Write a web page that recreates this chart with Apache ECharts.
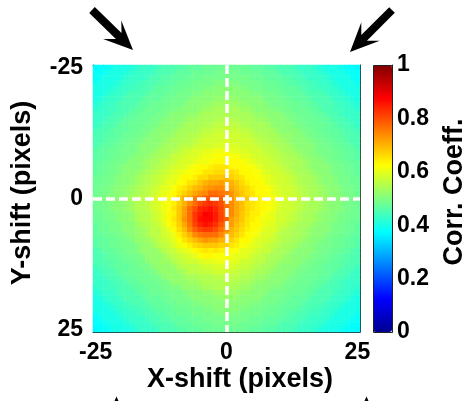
<!DOCTYPE html>
<html>
<head>
<meta charset="utf-8">
<script src="https://cdn.jsdelivr.net/npm/echarts@6/dist/echarts.min.js"></script>
<style>
html,body{margin:0;padding:0;background:#fff;}
#chart{width:470px;height:401px;}
</style>
</head>
<body>
<div id="chart"></div>
<script>
// Pixel shifts (categories for both axes)
const shifts = [-25,-24,-23,-22,-21,-20,-19,-18,-17,-16,-15,-14,-13,-12,-11,-10,-9,-8,-7,-6,-5,-4,-3,-2,-1,0,1,2,3,4,5,6,7,8,9,10,11,12,13,14,15,16,17,18,19,20,21,22,23,24,25];
const xTickLabels = ['-25', '0', '25'];
const yTickLabels = ['-25', '0', '25'];
const cbTickLabels = ['0', '0.2', '0.4', '0.6', '0.8', '1'];
const xTitle = 'X-shift (pixels)';
const yTitle = 'Y-shift (pixels)';
const cbTitle = 'Corr. Coeff.';

// Correlation coefficient x100, one row per Y-shift (-25 top ... 25 bottom), X-shift -25 ... 25
const corrRows = [
"37 38 38 39 40 40 40 41 42 43 43 43 44 45 45 45 46 46 47 47 47 48 48 48 48 49 48 48 48 48 47 47 47 46 46 45 45 45 44 43 43 43 42 41 40 40 40 39 38 38 37",
"38 38 39 40 40 40 41 42 43 43 43 44 45 45 45 46 47 47 47 48 48 48 48 49 49 49 49 49 48 48 48 48 47 47 47 46 45 45 45 44 43 43 43 42 41 40 40 40 39 38 38",
"38 39 40 40 40 41 42 43 43 43 44 45 45 46 46 47 47 47 48 48 48 49 49 49 49 50 49 49 49 49 48 48 48 47 47 47 46 46 45 45 44 43 43 43 42 41 40 40 40 39 38",
"39 40 40 40 41 42 43 43 44 44 45 45 46 46 47 47 48 48 48 49 49 49 49 50 50 51 50 50 49 49 49 49 48 48 48 47 47 46 46 45 45 44 44 43 43 42 41 40 40 40 39",
"40 40 40 41 42 43 43 44 44 45 45 46 47 47 47 48 48 48 49 49 49 50 50 51 51 51 51 51 50 50 49 49 49 48 48 48 47 47 47 46 45 45 44 44 43 43 42 41 40 40 40",
"40 40 41 42 43 43 44 45 45 45 46 47 47 47 48 48 49 49 49 50 50 51 51 51 51 52 51 51 51 51 50 50 49 49 49 48 48 47 47 47 46 45 45 45 44 43 43 42 41 40 40",
"40 41 42 43 43 44 45 45 45 46 47 47 47 48 48 49 49 49 50 51 51 51 51 52 52 53 52 52 51 51 51 51 50 49 49 49 48 48 47 47 47 46 45 45 45 44 43 43 42 41 40",
"41 42 43 43 44 45 45 45 46 47 47 48 48 48 49 49 49 50 51 51 51 52 52 53 53 54 53 53 52 52 51 51 51 50 49 49 49 48 48 48 47 47 46 45 45 45 44 43 43 42 41",
"42 43 43 44 44 45 45 46 47 47 48 48 48 49 49 50 50 51 51 51 52 53 53 54 54 54 54 54 53 53 52 51 51 51 50 50 49 49 48 48 48 47 47 46 45 45 44 44 43 43 42",
"43 43 43 44 45 45 46 47 47 48 48 48 49 49 50 51 51 51 52 52 53 54 54 54 54 55 54 54 54 54 53 52 52 51 51 51 50 49 49 48 48 48 47 47 46 45 45 44 43 43 43",
"43 43 44 45 45 46 47 47 48 48 48 49 49 50 51 51 51 52 53 53 54 54 54 55 55 56 55 55 54 54 54 53 53 52 51 51 51 50 49 49 48 48 48 47 47 46 45 45 44 43 43",
"43 44 45 45 46 47 47 48 48 48 49 49 50 51 51 51 52 53 54 54 54 55 55 56 56 57 56 56 55 55 54 54 54 53 52 51 51 51 50 49 49 48 48 48 47 47 46 45 45 44 43",
"44 45 45 46 47 47 47 48 48 49 49 50 51 51 51 52 53 54 54 54 55 56 56 57 57 58 57 57 56 56 55 54 54 54 53 52 51 51 51 50 49 49 48 48 47 47 47 46 45 45 44",
"45 45 46 46 47 47 48 48 49 49 50 51 51 52 52 53 54 54 55 55 56 57 57 58 58 58 58 58 57 57 56 55 55 54 54 53 52 52 51 51 50 49 49 48 48 47 47 46 46 45 45",
"45 45 46 47 47 48 48 49 49 50 51 51 51 52 53 54 54 55 55 56 57 58 58 58 58 59 58 58 58 58 57 56 55 55 54 54 53 52 51 51 51 50 49 49 48 48 47 47 46 45 45",
"45 46 47 47 48 48 49 49 50 51 51 51 52 53 54 54 55 56 56 57 58 58 58 59 59 60 59 59 58 58 58 57 56 56 55 54 54 53 52 51 51 51 50 49 49 48 48 47 47 46 45",
"46 47 47 48 48 49 49 49 50 51 51 52 53 54 54 55 56 57 58 59 59 60 60 61 61 62 60 60 59 59 58 58 57 56 56 55 54 54 53 52 51 51 50 49 49 49 48 48 47 47 46",
"46 47 47 48 48 49 49 50 51 51 52 53 54 54 55 57 57 58 59 59 60 61 61 62 62 63 62 62 60 60 59 58 58 57 56 56 55 54 54 53 52 51 51 50 49 49 48 48 47 47 46",
"47 47 48 48 49 49 50 51 51 52 53 54 54 56 56 57 58 59 59 60 61 61 62 63 63 63 63 63 62 61 60 59 58 58 57 56 55 55 54 54 53 52 51 51 50 49 49 48 48 47 47",
"47 48 48 49 49 50 51 51 51 52 53 54 55 56 57 58 59 59 61 62 63 63 64 65 65 65 63 63 63 62 62 60 59 58 58 57 56 55 54 54 53 52 51 51 51 50 49 49 48 48 47",
"47 48 48 49 49 50 51 51 52 53 54 55 56 57 58 59 60 61 62 63 63 65 65 66 66 66 66 65 63 63 62 62 60 59 58 58 57 56 55 54 54 53 52 51 51 50 49 49 48 48 47",
"48 48 49 49 50 51 51 52 53 54 55 56 57 58 59 60 61 63 63 64 66 66 68 68 68 69 67 66 65 63 63 62 61 60 59 58 58 57 56 55 54 54 53 52 51 51 50 49 49 48 48",
"48 48 49 49 50 51 51 52 53 54 55 56 57 58 60 60 62 63 65 66 68 70 71 71 72 70 70 68 66 64 63 63 62 60 59 58 58 57 56 55 54 54 53 52 51 51 50 49 49 48 48",
"48 49 49 50 51 51 52 53 54 55 56 57 58 60 60 62 64 65 67 69 70 72 73 74 74 72 71 69 67 66 64 63 63 62 60 59 58 58 57 56 55 54 54 53 52 51 51 50 49 49 48",
"48 49 49 50 51 51 52 53 54 55 56 57 59 60 61 63 65 67 69 71 73 74 77 77 76 75 73 70 68 66 65 63 63 62 60 59 58 58 57 56 55 54 54 53 52 51 51 50 49 49 48",
"49 49 50 51 51 52 53 54 55 56 57 58 60 61 62 64 67 70 71 75 76 79 79 79 78 76 73 70 68 68 65 64 63 63 62 60 59 58 58 57 56 55 54 54 53 52 51 51 50 49 49",
"48 49 49 50 51 51 52 53 55 55 56 58 59 61 62 64 67 70 74 77 80 82 83 82 80 76 74 71 69 66 65 64 63 62 61 59 58 58 57 56 55 54 54 53 52 51 51 50 49 49 48",
"48 49 49 50 51 51 52 53 55 55 56 58 59 61 62 65 68 72 77 80 84 85 86 84 81 77 74 71 69 66 65 64 63 62 61 59 58 58 57 56 55 54 54 53 52 51 51 50 49 49 48",
"48 48 49 49 50 51 51 52 54 55 55 57 58 60 63 64 68 72 77 82 85 88 87 85 81 77 74 71 68 66 64 64 62 61 60 58 58 57 56 55 54 54 53 52 51 51 50 49 49 48 48",
"48 48 49 49 50 51 51 52 54 55 55 57 58 60 63 65 68 73 77 82 86 87 87 85 81 78 72 70 68 65 64 63 61 61 60 58 58 57 56 55 54 54 53 52 51 51 50 49 49 48 48",
"47 48 48 49 49 50 51 51 53 54 55 56 57 59 62 64 67 71 76 81 84 86 85 83 79 75 72 69 67 65 63 63 61 60 59 58 57 56 55 54 54 53 52 51 51 50 49 49 48 48 47",
"47 48 48 49 49 50 51 51 52 53 54 56 56 58 60 63 66 69 74 78 81 82 82 80 77 74 70 68 66 64 63 62 60 59 59 57 56 55 54 54 53 52 51 51 51 50 49 49 48 48 47",
"47 47 48 48 49 49 50 51 52 53 54 56 56 58 59 61 64 67 70 74 76 77 77 77 74 71 69 67 65 63 62 61 59 59 58 56 55 55 54 54 53 52 51 51 50 49 49 48 48 47 47",
"46 47 47 48 48 49 49 50 52 52 53 54 56 57 58 60 62 65 67 69 71 73 72 72 70 70 67 65 63 63 61 59 59 58 57 56 55 54 54 53 52 51 51 50 49 49 48 48 47 47 46",
"46 47 47 48 48 49 49 49 50 52 52 53 55 56 57 59 61 62 64 66 67 68 68 68 67 67 65 64 62 61 60 59 58 57 56 55 54 54 53 52 51 51 50 49 49 49 48 48 47 47 46",
"45 46 47 47 48 48 49 49 50 52 52 52 53 55 56 57 59 60 61 63 64 65 64 65 64 64 63 62 60 60 59 58 57 57 55 54 54 53 52 51 51 51 50 49 49 48 48 47 47 46 45",
"45 45 46 47 47 48 48 49 49 50 52 52 52 53 55 56 57 58 59 60 62 63 63 62 62 62 61 60 60 59 58 57 56 55 54 54 53 52 51 51 51 50 49 49 48 48 47 47 46 45 45",
"45 45 46 46 47 47 48 48 49 49 51 52 52 53 53 55 56 57 58 58 59 60 60 61 61 61 60 60 58 58 57 56 56 54 54 53 52 52 51 51 50 49 49 48 48 47 47 46 46 45 45",
"44 45 45 46 47 47 47 48 48 49 49 51 52 52 52 53 55 56 56 56 57 58 58 59 59 60 59 58 57 57 56 55 54 54 53 52 51 51 51 50 49 49 48 48 47 47 47 46 45 45 44",
"43 44 45 45 46 47 47 48 48 48 49 49 51 52 52 52 53 54 56 56 56 57 57 58 58 58 57 57 56 56 55 54 54 53 52 51 51 51 50 49 49 48 48 48 47 47 46 45 45 44 43",
"43 43 44 45 45 46 47 47 48 48 48 49 49 51 52 52 52 53 54 54 55 55 55 56 56 57 56 56 55 55 54 53 53 52 51 51 51 50 49 49 48 48 48 47 47 46 45 45 44 43 43",
"43 43 43 44 45 45 46 47 47 48 48 48 49 49 50 52 52 52 53 53 54 55 55 55 55 56 55 55 54 54 53 52 52 51 51 51 50 49 49 48 48 48 47 47 46 45 45 44 43 43 43",
"42 43 43 44 44 45 45 46 47 47 48 48 48 49 49 50 50 52 52 52 53 54 54 55 55 55 54 54 53 53 52 51 51 51 50 50 49 49 48 48 48 47 47 46 45 45 44 44 43 43 42",
"41 42 43 43 44 45 45 45 46 47 47 48 48 48 49 49 49 50 51 51 51 52 52 53 53 54 53 53 52 52 51 51 51 50 49 49 49 48 48 48 47 47 46 45 45 45 44 43 43 42 41",
"40 41 42 43 43 44 45 45 45 46 47 47 47 48 48 49 49 49 50 51 51 51 51 52 52 53 52 52 51 51 51 51 50 49 49 49 48 48 47 47 47 46 45 45 45 44 43 43 42 41 40",
"40 40 41 42 43 43 44 45 45 45 46 47 47 47 48 48 49 49 49 50 50 51 51 51 51 52 51 51 51 51 50 50 49 49 49 48 48 47 47 47 46 45 45 45 44 43 43 42 41 40 40",
"40 40 40 41 42 43 43 44 44 45 45 46 47 47 47 48 48 48 49 49 49 50 50 51 51 51 51 51 50 50 49 49 49 48 48 48 47 47 47 46 45 45 44 44 43 43 42 41 40 40 40",
"39 40 40 40 41 42 43 43 44 44 45 45 46 46 47 47 48 48 48 49 49 49 49 50 50 51 50 50 49 49 49 49 48 48 48 47 47 46 46 45 45 44 44 43 43 42 41 40 40 40 39",
"38 39 40 40 40 41 42 43 43 43 44 45 45 46 46 47 47 47 48 48 48 49 49 49 49 50 49 49 49 49 48 48 48 47 47 47 46 46 45 45 44 43 43 43 42 41 40 40 40 39 38",
"38 38 39 40 40 40 41 42 43 43 43 44 45 45 45 46 47 47 47 48 48 48 48 49 49 49 49 49 48 48 48 48 47 47 47 46 45 45 45 44 43 43 43 42 41 40 40 40 39 38 38",
"37 38 38 39 40 40 40 41 42 43 43 43 44 45 45 45 46 46 47 47 47 48 48 48 48 49 48 48 48 48 47 47 47 46 46 45 45 45 44 43 43 43 42 41 40 40 40 39 38 38 37"
];

// MATLAB "jet" colormap anchors (evenly spaced 0..1)
const jetColors = ['#00008F','#0000FF','#0080FF','#00FFFF','#80FF80','#FFFF00','#FF8000','#FF0000','#800000'];

const cats = shifts.map(String);
const heatData = [];
if (corrRows.length !== cats.length) throw new Error('rows: ' + corrRows.length);
corrRows.forEach(function (row, j) {
  const vals = row.trim().split(/\s+/).map(Number);
  if (vals.length !== cats.length) throw new Error('row ' + j + ' has ' + vals.length);
  vals.forEach(function (v, i) { heatData.push([i, j, v / 100]); });
});

const FONT = '"Liberation Sans", Arial, Helvetica, sans-serif';
const AX = '#222';
const PLOT = {left: 93, top: 65, w: 267, h: 267};
const CB = {left: 373, top: 65, w: 19, h: 267};

function catAxis(pos, showLabels, list, margin, extra) {
  const o = {
    type: 'category', gridIndex: 0, data: cats, position: pos, boundaryGap: true,
    axisLine: {show: true, onZero: false, lineStyle: {color: AX, width: 1}},
    axisTick: {show: true, inside: true, alignWithLabel: true, interval: 4, length: 4, lineStyle: {color: AX, width: 1}},
    axisLabel: {show: showLabels, margin: margin, interval: function (idx, val) { return list.indexOf(val) >= 0; },
      color: '#000', fontFamily: FONT, fontWeight: 'bold', fontSize: 23},
    splitLine: {show: false}, splitArea: {show: false}
  };
  return Object.assign(o, extra || {});
}

const titleStyle = function (t) {
  return {text: t, fill: '#000', font: 'bold 27px ' + FONT, textAlign: 'center', textVerticalAlign: 'middle', align: 'center', verticalAlign: 'middle'};
};

const chart = echarts.init(document.getElementById('chart'), null, {renderer: 'canvas'});
chart.setOption({
  animation: false,
  backgroundColor: '#fff',
  grid: [
    {left: PLOT.left, top: PLOT.top, width: PLOT.w, height: PLOT.h, containLabel: false, outerBoundsMode: 'none'},
    {left: CB.left, top: CB.top, width: CB.w, height: CB.h, containLabel: false, outerBoundsMode: 'none'}
  ],
  xAxis: [
    catAxis('bottom', true, xTickLabels, 9),
    catAxis('top', false, xTickLabels, 8),
    {type: 'value', gridIndex: 1, min: 0, max: 1, show: false}
  ],
  yAxis: [
    catAxis('left', true, yTickLabels, 10, {inverse: true}),
    catAxis('right', false, yTickLabels, 8, {inverse: true}),
    {
      type: 'value', gridIndex: 1, position: 'right', min: 0, max: 1, interval: 0.1,
      axisLine: {show: true, onZero: false, lineStyle: {color: AX, width: 1}},
      axisTick: {show: true, inside: true, length: 4, lineStyle: {color: AX}},
      axisLabel: {show: true, margin: 5, color: '#000', fontFamily: FONT, fontWeight: 'bold', fontSize: 23,
        formatter: function (v) { const s = String(+(+v).toFixed(1)); return cbTickLabels.indexOf(s) >= 0 ? s : ''; }},
      splitLine: {show: false}
    }
  ],
  visualMap: {
    type: 'continuous', min: 0, max: 1, seriesIndex: 0, calculable: false, realtime: false,
    orient: 'vertical', left: CB.left, top: CB.top, itemWidth: CB.w, itemHeight: CB.h, padding: 0,
    inRange: {color: jetColors}, hoverLink: false
  },
  series: [{
    type: 'heatmap', xAxisIndex: 0, yAxisIndex: 0, data: heatData, progressive: 0,
    emphasis: {disabled: true},
    markLine: {
      silent: true, symbol: ['none', 'none'], label: {show: false}, animation: false,
      lineStyle: {color: '#ffffff', width: 3.5, type: [9, 4], opacity: 1},
      emphasis: {disabled: true},
      data: [{xAxis: '0'}, {yAxis: '0'}]
    }
  }],
  graphic: [
    {type: 'rect', z: 100, silent: true, shape: {x: CB.left + 0.5, y: CB.top + 0.5, width: CB.w, height: CB.h},
      style: {fill: 'none', stroke: AX, lineWidth: 1}},
    {type: 'text', z: 100, x: 240, y: 380, silent: true, style: titleStyle(xTitle)},
    {type: 'text', z: 100, x: 23, y: 193, rotation: Math.PI / 2, silent: true, style: titleStyle(yTitle)},
    {type: 'text', z: 100, x: 455, y: 192, rotation: Math.PI / 2, silent: true, style: titleStyle(cbTitle)},
    {type: 'polygon', z: 100, silent: true,
      shape: {points: [[94.8,7.1],[121.5,33.1],[121.3,20.5],[133,50],[103.1,39.1],[115.9,38.9],[89.2,12.9]]},
      style: {fill: '#000'}},
    {type: 'polygon', z: 100, silent: true,
      shape: {points: [[389.2,7.2],[361.3,35.1],[361.3,22.3],[350,52],[379.7,40.7],[366.9,40.7],[394.8,12.8]]},
      style: {fill: '#000'}},
    {type: 'polygon', z: 100, silent: true, shape: {points: [[114.5,401],[116.5,396.5],[118.5,401]]}, style: {fill: '#000'}},
    {type: 'polygon', z: 100, silent: true, shape: {points: [[364.5,401],[366.5,396.5],[368.5,401]]}, style: {fill: '#000'}}
  ]
});
</script>
</body>
</html>
